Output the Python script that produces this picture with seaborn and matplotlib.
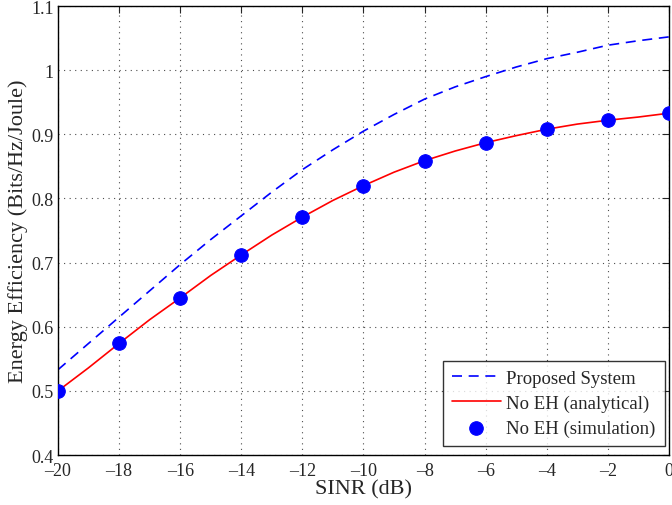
import numpy as np
import pandas as pd
import matplotlib
matplotlib.use("Agg")
import matplotlib.pyplot as plt
import seaborn as sns

# data
sinr_fine = [-20, -19, -18, -17, -16, -15, -14, -13, -12, -11, -10,
             -9, -8, -7, -6, -5, -4, -3, -2, -1, 0]
proposed = [0.533, 0.574, 0.615, 0.656, 0.697, 0.736, 0.773, 0.810, 0.845, 0.876, 0.905,
            0.931, 0.955, 0.974, 0.990, 1.005, 1.018, 1.028, 1.039, 1.046, 1.052]
no_eh_analytical = [0.500, 0.536, 0.574, 0.611, 0.645, 0.680, 0.712, 0.743, 0.771, 0.797, 0.820,
                    0.841, 0.859, 0.874, 0.887, 0.898, 0.908, 0.916, 0.922, 0.927, 0.933]
sinr_sim = [-20, -18, -16, -14, -12, -10, -8, -6, -4, -2, 0]
no_eh_sim = [0.500, 0.574, 0.645, 0.712, 0.771, 0.820, 0.859, 0.887, 0.908, 0.922, 0.933]

sns.set_style("white")
plt.rcParams['font.family'] = ['Liberation Serif', 'DejaVu Serif']

fig = plt.figure(figsize=(6.72, 5.06), dpi=100)
ax = fig.add_axes([0.0863, 0.0988, 0.9092, 0.8872])

df = pd.DataFrame({"x": sinr_fine, "prop": proposed, "ana": no_eh_analytical})
sim = pd.DataFrame({"x": sinr_sim, "y": no_eh_sim})

sns.lineplot(data=df, x="x", y="prop", ax=ax, color="blue", lw=1.2,
             label="Proposed System")
ax.lines[-1].set_dashes([6, 4])
sns.lineplot(data=df, x="x", y="ana", ax=ax, color="red", lw=1.2,
             label="No EH (analytical)")
sns.scatterplot(data=sim, x="x", y="y", ax=ax, color="blue", s=95,
                edgecolor="blue", zorder=3, label="No EH (simulation)")

ax.set_xlim(-20, 0)
ax.set_ylim(0.4, 1.1)
ax.set_xticks(range(-20, 1, 2))
ax.set_xticklabels([str(v).replace("-", "\u2013") for v in range(-20, 1, 2)])
ax.set_yticks([0.4, 0.5, 0.6, 0.7, 0.8, 0.9, 1.0, 1.1])
ax.set_yticklabels(["0.4", "0.5", "0.6", "0.7", "0.8", "0.9", "1", "1.1"])
ax.tick_params(direction="in", length=5, labelsize=13, top=True, right=True,
               width=0.8)
ax.tick_params(axis="x", pad=5)
ax.tick_params(axis="y", pad=3)
ax.grid(True, linestyle=(0, (1, 4)), color="0.3", lw=0.8)
for s in ax.spines.values():
    s.set_linewidth(1.0)
    s.set_color("black")

ax.set_xlabel("SINR (dB)", fontsize=16, labelpad=0)
ax.set_ylabel("Energy Efficiency (Bits/Hz/Joule)", fontsize=16, labelpad=2)

leg = ax.legend(loc="lower right", bbox_to_anchor=(0.9935, 0.02), fontsize=13.5,
                frameon=True, fancybox=False, edgecolor="black", borderaxespad=0,
                handlelength=2.6, handletextpad=0.3, borderpad=0.5,
                labelspacing=0.4)
leg.get_frame().set_linewidth(1.0)

fig.savefig("out.png", dpi=100)
